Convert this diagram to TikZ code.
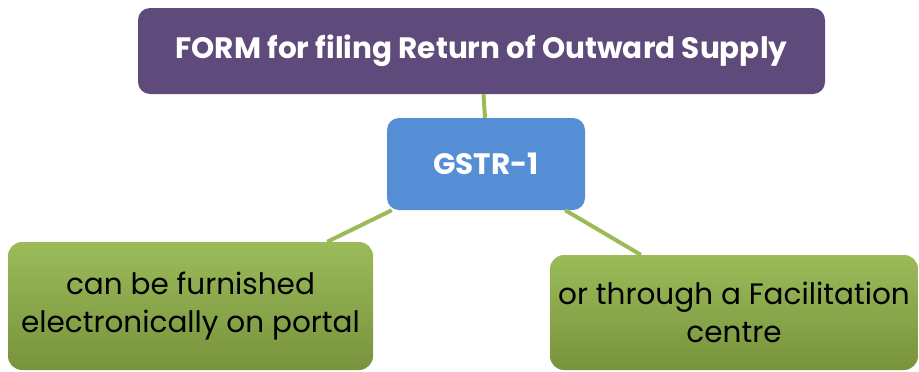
\documentclass[tikz,border=0pt]{standalone}
\usepackage{fontspec}
\setmainfont{Poppins}
\usepackage{tikz}
\usetikzlibrary{calc,positioning}

\definecolor{formpurple}{HTML}{5F4B7B}
\definecolor{gstrblue}{HTML}{558ED5}
\definecolor{leaftop}{HTML}{9BBB59}
\definecolor{leafbot}{HTML}{77933C}

\begin{document}
\begin{tikzpicture}[x=1pt, y=-1pt,
  every node/.style={font=\fontsize{29.5}{38}\selectfont},
  headbox/.style={rounded corners=12pt, fill=formpurple, text=white, font=\bfseries\fontsize{29.5}{36}\selectfont, minimum width=687pt, minimum height=86pt, inner sep=0pt},
  gstrbox/.style={rounded corners=12pt, fill=gstrblue, text=white, font=\bfseries\fontsize{29.5}{36}\selectfont, minimum width=198pt, minimum height=92pt, inner sep=0pt},
  leafbox/.style={rounded corners=14pt, top color=leaftop, bottom color=leafbot, draw=none, align=center, inner sep=0pt},
  link/.style={draw=leaftop, line width=4pt}]
  \useasboundingbox (0,0) rectangle (919,372);
  \node[headbox] (form) at (481.5,51) {FORM for filing Return of Outward Supply};
  \node[gstrbox] (gstr) at (486,164) {GSTR-1};
  \node[leafbox, minimum width=365pt, minimum height=128pt] (portal) at (190.5,306) {can be furnished\\electronically on portal};
  \node[leafbox, minimum width=368pt, minimum height=115pt] (centre) at (734,312.5) {or through a Facilitation\\centre};
  % connectors
  \draw[link] ([xshift=2pt]form.south) -- ([xshift=-1pt]gstr.north);
  \draw[link] ([xshift=5pt]gstr.south west) -- ([xshift=-46pt]portal.north east);
  \draw[link] ([xshift=-20pt]gstr.south east) -- ([xshift=91pt]centre.north west);
\end{tikzpicture}
\end{document}
